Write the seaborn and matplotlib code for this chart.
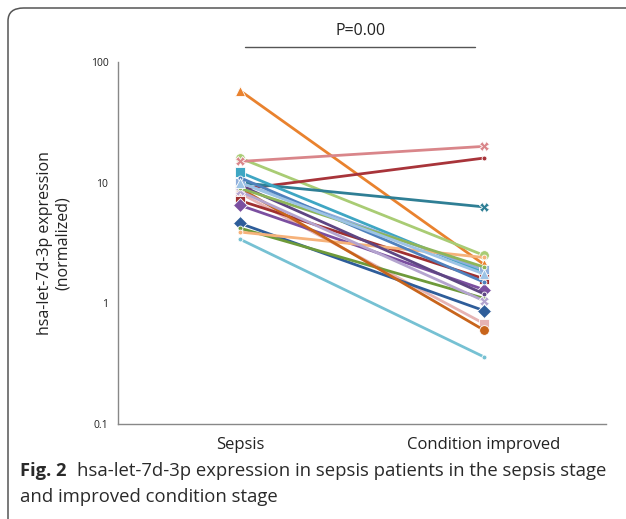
import matplotlib
matplotlib.use("Agg")
import matplotlib.pyplot as plt
from matplotlib.patches import FancyBboxPatch
import seaborn as sns
import pandas as pd

stages = ["Sepsis", "Condition improved"]
patients = ["P1", "P2", "P3", "P4", "P5", "P6", "P7", "P8", "P9", "P10",
            "P11", "P12", "P13", "P14", "P15", "P16", "P17", "P18", "P19", "P20"]
sepsis = [58, 16, 15, 8.8, 10, 12.2, 10, 8.2, 7.1, 6.5,
          4.6, 4.2, 3.9, 3.4, 9.0, 9.5, 8.5, 11, 9.0, 10]
improved = [2.1, 2.5, 20, 16, 6.3, 1.8, 1.9, 0.68, 1.6, 1.3,
            0.87, 1.1, 2.4, 0.36, 0.6, 1.2, 1.05, 1.5, 2.0, 1.75]
colors = ["#E9822E", "#A9CC74", "#D9868A", "#A8343A", "#2F7F95", "#3FA6C3",
          "#8FAEDB", "#E6B3B3", "#A03030", "#7B4FA0", "#2E5D9A", "#6E9A3A",
          "#F6B27A", "#76C1D3", "#C8641B", "#5E4683", "#B4A4CF", "#4F81BD",
          "#8DB55A", "#9DC3E6"]
markers = ["^", "o", "X", ".", "X", "s", "s", "s", "s", "D",
           "D", ".", ".", ".", "o", ".", "X", ".", ".", "^"]
ytick_vals = [0.1, 1, 10, 100]
ytick_labels = ["0.1", "1", "10", "100"]

rows = []
for p, a, b in zip(patients, sepsis, improved):
    rows.append({"patient": p, "x": 0, "value": a})
    rows.append({"patient": p, "x": 1, "value": b})
df = pd.DataFrame(rows)

sns.set_style("white")
plt.rcParams["font.family"] = ["Open Sans", "DejaVu Sans"]

fig = plt.figure(figsize=(6.26, 5.19), dpi=100)
ax = fig.add_axes([0.1885, 0.183, 0.7795, 0.6975])

sns.lineplot(data=df, x="x", y="value", hue="patient", style="patient",
             palette=colors, markers=markers, dashes=False, linewidth=2.0,
             markersize=7, markeredgewidth=0.6, legend=False, ax=ax,
             hue_order=patients, style_order=patients)

ax.set_yscale("log")
ax.set_ylim(0.1, 100)
ax.set_xlim(-0.5, 1.5)
ax.set_yticks(ytick_vals)
ax.set_yticklabels(ytick_labels, fontsize=7.5, color="#222222")
ax.yaxis.set_minor_locator(matplotlib.ticker.NullLocator())
ax.set_xticks([0, 1])
ax.set_xticklabels(stages, fontsize=12, color="#222222")
ax.tick_params(axis="y", length=4, width=0.8, color="#888888", pad=3)
ax.tick_params(axis="x", length=3, width=0.8, color="#bbbbbb", pad=6)
for s in ["top", "right"]:
    ax.spines[s].set_visible(False)
for s in ["left", "bottom"]:
    ax.spines[s].set_color("#888888")
    ax.spines[s].set_linewidth(1.0)
ax.set_xlabel("")
ax.set_ylabel("hsa-let-7d-3p expression\n(normalized)", fontsize=11.5,
              color="#222222", labelpad=14, linespacing=1.15)

# significance bar
fig.add_artist(plt.Line2D([245 / 626, 475 / 626], [1 - 47 / 519, 1 - 47 / 519],
                          color="#555555", lw=1.0))
fig.text(361 / 626, 1 - 31 / 519, "P=0.00", ha="center", va="center",
         fontsize=11.5, color="#222222")

# caption
fig.text(20 / 626, 1 - 471 / 519, "Fig. 2", ha="left", va="center",
         fontsize=13.2, fontweight="bold", color="#2a2a2a")
fig.text(77 / 626, 1 - 471 / 519,
         "hsa-let-7d-3p expression in sepsis patients in the sepsis stage",
         ha="left", va="center", fontsize=13.3, color="#2a2a2a")
fig.text(20 / 626, 1 - 497 / 519, "and improved condition stage",
         ha="left", va="center", fontsize=13.3, color="#2a2a2a")

# rounded frame
frame = FancyBboxPatch((8 / 626, -0.05), 1.02, 1 - 8 / 519 + 0.05,
                       boxstyle="round,pad=0,rounding_size=0.025",
                       transform=fig.transFigure, fill=False,
                       edgecolor="#555555", lw=1.1, clip_on=False)
fig.add_artist(frame)

fig.savefig("out.png", dpi=100)
